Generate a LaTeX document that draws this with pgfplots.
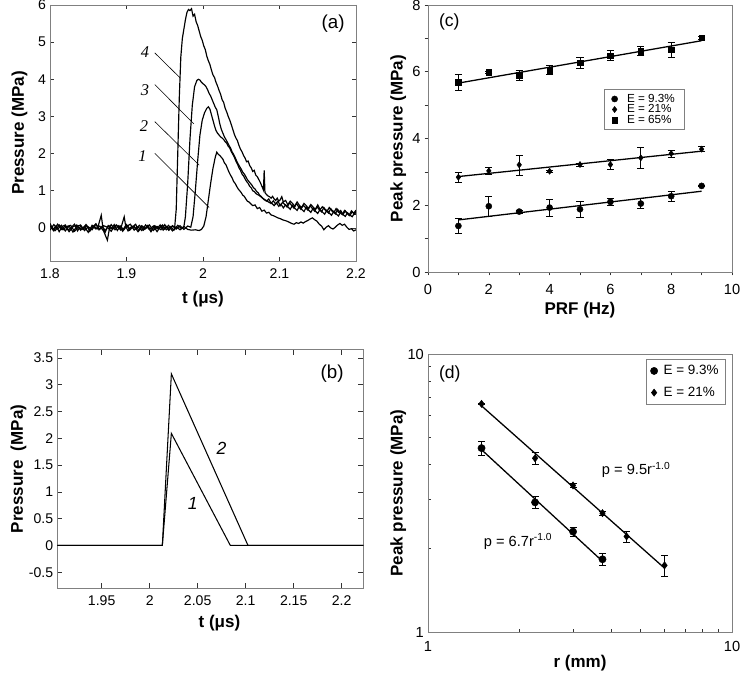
\documentclass[border=0pt]{standalone}
\usepackage{fontspec}
\setmainfont{Liberation Sans}
\newfontfamily\timesfont{Liberation Serif}
\usepackage{pgfplots}
\pgfplotsset{compat=1.18}
\definecolor{boxgray}{HTML}{808080}

\newcommand{\labfont}{\bfseries\fontsize{14.5}{16}\selectfont}

\pgfplotsset{
  panel/.style={
    scale only axis, anchor=south west,
    axis line style={boxgray, line width=0.6pt},
    every tick/.append style={black!80, line width=0.5pt},
    tick label style={font=\fontsize{12}{14}\selectfont},
    /pgf/number format/assume math mode=true,
  },
  ebars/.style={
    error bars/error mark=-,
    error bars/error mark options={rotate=90, mark size=3pt, line width=0.6pt, black},
    error bars/error bar style={line width=0.6pt, black},
  },
}

\begin{document}
\begin{tikzpicture}
\useasboundingbox (0,0) rectangle (22.5cm,20.25cm);

% (a) measured waveforms
\begin{axis}[panel, at={(1.5cm,12.42cm)}, width=9.18cm, height=7.68cm,
  xmin=1.8, xmax=2.2, ymin=-0.89, ymax=6,
  xtick={1.8,1.9,2,2.1,2.2}, ytick={0,1,2,3,4,5,6},
  tick align=inside, major tick length=0.12cm,
  xlabel={t (μs)}, ylabel={Pressure (MPa)},
  every axis x label/.style={at={(axis description cs:0.5,-0.1)}, anchor=north, font=\labfont},
  every axis y label/.style={at={(axis description cs:-0.1,0.5)}, rotate=90, anchor=center, font=\labfont},
  xticklabel style={yshift=-3pt},
]
\addplot[black, line width=1pt] coordinates {
(1.800,0.12) (1.804,-0.05) (1.808,0.06) (1.812,-0.10) (1.816,0.04) (1.820,0.08) (1.824,-0.06) (1.828,0.02) (1.832,0.10) (1.836,-0.08) (1.840,0.05) (1.844,-0.03) (1.848,0.07) (1.852,-0.09) (1.856,0.03) (1.860,0.11) (1.864,-0.05) (1.868,0.04) (1.872,-0.12) (1.876,0.06) (1.880,-0.02) (1.884,0.09) (1.888,-0.07) (1.892,0.05) (1.896,-0.04) (1.900,0.08) (1.904,-0.06) (1.908,0.03) (1.912,0.10) (1.916,-0.08) (1.920,0.04) (1.924,-0.03) (1.928,0.07) (1.932,-0.10) (1.936,0.05) (1.940,-0.02) (1.944,0.08) (1.948,-0.06) (1.952,0.04) (1.956,-0.05) (1.960,0.06) (1.963,0.02)
(1.965,0.5) (1.967,2.0) (1.969,3.5) (1.971,4.6) (1.973,5.1) (1.975,5.35) (1.977,5.6) (1.979,5.8) (1.981,5.88) (1.983,5.85) (1.985,5.9) (1.987,5.7) (1.989,5.75) (1.991,5.55) (1.993,5.45) (1.995,5.3) (1.997,5.15) (1.999,5.05) (2.001,4.9) (2.003,4.8) (2.005,4.62) (2.007,4.5) (2.009,4.4) (2.011,4.25) (2.013,4.12) (2.015,4.05) (2.017,3.92) (2.019,3.82) (2.021,3.7) (2.023,3.6) (2.025,3.45) (2.027,3.38) (2.029,3.22) (2.031,3.12) (2.033,3.0) (2.035,2.9) (2.037,2.78) (2.039,2.65) (2.041,2.52) (2.043,2.42) (2.045,2.35) (2.047,2.22) (2.049,2.12) (2.051,2.05) (2.053,1.95) (2.055,1.88) (2.057,1.78) (2.059,1.8) (2.061,1.68) (2.063,1.62) (2.065,1.52) (2.067,1.55) (2.069,1.42) (2.071,1.38) (2.073,1.3) (2.075,1.22) (2.077,1.12) (2.079,1.02) (2.080,1.55) (2.081,0.95) (2.083,0.9) (2.085,0.86) (2.087,0.84) (2.089,0.8) (2.091,0.85) (2.093,0.78) (2.095,0.74) (2.097,0.8) (2.099,0.72) (2.101,0.76) (2.103,0.84) (2.105,0.7) (2.108,0.74) (2.111,0.62) (2.114,0.72) (2.117,0.66) (2.120,0.58) (2.123,0.7) (2.126,0.61) (2.129,0.55) (2.132,0.66) (2.135,0.6) (2.138,0.52) (2.141,0.63) (2.144,0.56) (2.147,0.5) (2.150,0.62) (2.153,0.49) (2.156,0.57) (2.159,0.5) (2.162,0.44) (2.165,0.55) (2.168,0.47) (2.171,0.41) (2.174,0.52) (2.177,0.42) (2.180,0.47) (2.183,0.36) (2.186,0.46) (2.189,0.39) (2.192,0.33) (2.195,0.44) (2.198,0.37) (2.200,0.45)
};
\addplot[black, line width=1pt] coordinates {
(1.802,0.03) (1.807,-0.07) (1.812,0.08) (1.817,-0.05) (1.822,0.04) (1.827,0.07) (1.832,-0.09) (1.837,0.02) (1.842,-0.04) (1.847,0.09) (1.852,-0.06) (1.857,0.05) (1.862,-0.02) (1.867,0.34) (1.869,0.03) (1.872,-0.07) (1.877,0.06) (1.882,-0.03) (1.887,0.08) (1.892,-0.05) (1.897,0.3) (1.899,0.04) (1.902,-0.08) (1.907,0.05) (1.912,-0.02) (1.917,0.07) (1.922,-0.06) (1.927,0.03) (1.932,-0.09) (1.937,0.06) (1.942,-0.03) (1.947,0.08) (1.952,-0.05) (1.957,0.04) (1.962,-0.06) (1.967,0.07) (1.972,-0.02) (1.975,0.03)
(1.977,0.3) (1.980,1.2) (1.983,2.4) (1.986,3.3) (1.989,3.8) (1.992,3.97) (1.994,4.0) (1.996,3.98) (1.998,3.92) (2.000,3.88) (2.002,3.85) (2.004,3.8) (2.006,3.72) (2.008,3.62) (2.010,3.55) (2.012,3.45) (2.014,3.35) (2.016,3.25) (2.018,3.18) (2.020,3.0) (2.022,2.8) (2.024,2.65) (2.026,2.55) (2.028,2.45) (2.030,2.38) (2.032,2.3) (2.034,2.22) (2.036,2.15) (2.038,2.05) (2.040,1.98) (2.042,1.9) (2.044,1.8) (2.046,1.72) (2.048,1.65) (2.050,1.58) (2.052,1.5) (2.054,1.45) (2.056,1.38) (2.058,1.3) (2.060,1.25) (2.062,1.2) (2.064,1.15) (2.066,1.08) (2.068,1.05) (2.070,0.98) (2.072,0.95) (2.074,0.88) (2.076,0.85) (2.078,0.8) (2.080,0.76) (2.083,0.72) (2.086,0.78) (2.089,0.66) (2.092,0.73) (2.095,0.64) (2.098,0.72) (2.101,0.6) (2.104,0.69) (2.107,0.63) (2.110,0.56) (2.113,0.68) (2.116,0.6) (2.119,0.53) (2.122,0.66) (2.125,0.57) (2.128,0.5) (2.131,0.61) (2.134,0.55) (2.137,0.48) (2.140,0.6) (2.143,0.52) (2.146,0.45) (2.149,0.57) (2.152,0.49) (2.155,0.43) (2.158,0.55) (2.161,0.46) (2.164,0.4) (2.167,0.52) (2.170,0.44) (2.173,0.38) (2.176,0.5) (2.179,0.41) (2.182,0.36) (2.185,0.47) (2.188,0.4) (2.191,0.34) (2.194,0.46) (2.197,0.39) (2.200,0.48)
};
\addplot[black, line width=1pt] coordinates {
(1.800,-0.06) (1.805,0.09) (1.810,-0.03) (1.815,0.07) (1.820,-0.08) (1.825,0.05) (1.830,-0.11) (1.835,0.04) (1.840,0.08) (1.845,-0.07) (1.850,0.03) (1.855,-0.05) (1.860,0.10) (1.865,-0.04) (1.870,0.06) (1.875,0.02) (1.880,-0.09) (1.885,0.07) (1.890,0.03) (1.895,-0.06) (1.900,0.09) (1.905,-0.04) (1.910,0.05) (1.915,-0.10) (1.920,0.06) (1.925,-0.02) (1.930,0.08) (1.935,-0.07) (1.940,0.04) (1.945,-0.05) (1.950,0.09) (1.955,-0.06) (1.960,0.05) (1.965,-0.03) (1.970,0.06) (1.975,-0.04) (1.980,0.05) (1.984,0.02)
(1.987,0.3) (1.990,1.0) (1.993,1.8) (1.996,2.5) (1.999,2.9) (2.002,3.1) (2.005,3.22) (2.007,3.26) (2.009,3.2) (2.011,3.05) (2.013,2.9) (2.015,2.75) (2.017,2.62) (2.019,2.55) (2.021,2.5) (2.023,2.45) (2.025,2.42) (2.027,2.38) (2.029,2.32) (2.031,2.28) (2.033,2.2) (2.035,2.15) (2.037,2.05) (2.039,1.98) (2.041,1.9) (2.043,1.8) (2.045,1.72) (2.047,1.62) (2.049,1.55) (2.051,1.45) (2.053,1.4) (2.055,1.32) (2.057,1.25) (2.059,1.2) (2.061,1.12) (2.063,1.08) (2.065,1.0) (2.067,0.98) (2.069,0.93) (2.071,0.9) (2.073,0.88) (2.075,0.85) (2.078,0.8) (2.081,0.76) (2.084,0.72) (2.087,0.68) (2.090,0.66) (2.093,0.6) (2.096,0.68) (2.099,0.58) (2.102,0.64) (2.105,0.54) (2.108,0.62) (2.111,0.57) (2.114,0.5) (2.117,0.61) (2.120,0.53) (2.123,0.47) (2.126,0.59) (2.129,0.5) (2.132,0.44) (2.135,0.56) (2.138,0.48) (2.141,0.42) (2.144,0.53) (2.147,0.45) (2.150,0.39) (2.153,0.5) (2.156,0.43) (2.159,0.37) (2.162,0.48) (2.165,0.4) (2.168,0.34) (2.171,0.45) (2.174,0.38) (2.177,0.32) (2.180,0.43) (2.183,0.36) (2.186,0.31) (2.189,0.41) (2.192,0.35) (2.195,0.3) (2.198,0.4) (2.200,0.36)
};
\addplot[black, line width=1pt] coordinates {
(1.800,0.05) (1.805,-0.08) (1.810,0.10) (1.815,-0.04) (1.820,0.06) (1.825,-0.10) (1.830,0.03) (1.835,0.08) (1.840,-0.06) (1.845,0.04) (1.850,-0.12) (1.855,0.07) (1.860,-0.03) (1.865,0.05) (1.870,-0.08) (1.875,-0.33) (1.878,0.02) (1.880,0.09) (1.885,-0.05) (1.890,0.06) (1.895,-0.09) (1.900,0.04) (1.905,0.10) (1.910,-0.06) (1.915,0.03) (1.920,-0.07) (1.925,0.08) (1.930,-0.04) (1.935,0.05) (1.940,-0.10) (1.945,0.06) (1.950,-0.03) (1.955,0.07) (1.960,-0.08) (1.965,0.03) (1.970,-0.05) (1.975,0.04) (1.980,-0.04) (1.985,-0.06) (1.990,-0.05) (1.995,-0.07) (1.998,-0.04)
(2.001,0.05) (2.004,0.3) (2.007,0.75) (2.010,1.2) (2.013,1.6) (2.016,1.9) (2.018,2.04) (2.020,1.98) (2.022,1.95) (2.024,1.9) (2.026,1.85) (2.028,1.75) (2.030,1.7) (2.032,1.6) (2.034,1.5) (2.036,1.42) (2.038,1.35) (2.040,1.25) (2.042,1.2) (2.044,1.12) (2.046,1.05) (2.048,1.0) (2.050,0.95) (2.052,0.88) (2.054,0.85) (2.056,0.78) (2.058,0.72) (2.060,0.7) (2.062,0.66) (2.065,0.6) (2.068,0.62) (2.071,0.52) (2.074,0.55) (2.077,0.45) (2.080,0.48) (2.083,0.4) (2.086,0.42) (2.089,0.35) (2.092,0.33) (2.095,0.3) (2.098,0.27) (2.101,0.25) (2.104,0.22) (2.107,0.2) (2.110,0.18) (2.113,0.15) (2.116,0.12) (2.119,0.1) (2.122,0.14) (2.125,0.12) (2.128,0.16) (2.131,0.13) (2.134,0.17) (2.137,0.2) (2.140,0.24) (2.143,0.27) (2.146,0.22) (2.149,0.18) (2.152,0.1) (2.155,0.05) (2.158,-0.05) (2.161,0.02) (2.164,0.06) (2.167,0.0) (2.170,-0.03) (2.173,0.02) (2.176,0.08) (2.179,0.12) (2.182,0.07) (2.185,0.1) (2.188,0.02) (2.191,-0.04) (2.194,-0.02) (2.197,-0.08) (2.200,-0.05)
};
% leader lines
\addplot[black, line width=0.5pt] coordinates {(1.937,4.71) (1.970,4.04)};
\addplot[black, line width=0.5pt] coordinates {(1.937,3.86) (1.988,2.80)};
\addplot[black, line width=0.5pt] coordinates {(1.937,2.86) (1.995,1.69)};
\addplot[black, line width=0.5pt] coordinates {(1.937,2.01) (2.008,0.55)};
\node[font=\timesfont\itshape\fontsize{14}{14}\selectfont] at (axis cs:1.924,4.73) {4};
\node[font=\timesfont\itshape\fontsize{14}{14}\selectfont] at (axis cs:1.924,3.72) {3};
\node[font=\timesfont\itshape\fontsize{14}{14}\selectfont] at (axis cs:1.923,2.73) {2};
\node[font=\timesfont\itshape\fontsize{14}{14}\selectfont] at (axis cs:1.921,1.94) {1};
\node[font=\fontsize{16}{16}\selectfont] at (axis cs:2.170,5.49) {(a)};
\end{axis}

% (b) model waveforms
\begin{axis}[panel, at={(1.719cm,2.601cm)}, width=9.18cm, height=7.155cm,
  xmin=1.9038, xmax=2.2225, ymin=-0.8, ymax=3.65,
  xtick={1.95,2,2.05,2.1,2.15,2.2}, ytick={-0.5,0,0.5,1,1.5,2,2.5,3,3.5},
  tick align=inside, major tick length=0.15cm,
  xlabel={t (μs)}, ylabel={Pressure\ \ (MPa)},
  every axis x label/.style={at={(axis description cs:0.53,-0.146)}, anchor=center, font=\labfont},
  every axis y label/.style={at={(axis description cs:-0.127,0.5)}, rotate=90, anchor=center, font=\labfont},
  xticklabel style={yshift=-3pt},
]
\addplot[black, line width=0.9pt] coordinates {(1.9038,0) (2.0132,0) (2.0226,2.09) (2.084,0) (2.2225,0)};
\addplot[black, line width=0.9pt] coordinates {(1.9038,0) (2.0132,0) (2.0226,3.20) (2.1024,0) (2.2225,0)};
\node[font=\itshape\fontsize{15}{15}\selectfont] at (axis cs:2.0747,1.82) {2};
\node[font=\itshape\fontsize{15}{15}\selectfont] at (axis cs:2.045,0.78) {1};
\node[font=\fontsize{16}{16}\selectfont] at (axis cs:2.190,3.2) {(b)};
\end{axis}

% (c) peak pressure vs PRF
\begin{axis}[panel, ebars, at={(12.84cm,12.09cm)}, width=9.12cm, height=8.01cm,
  xmin=0, xmax=10, ymin=0, ymax=8,
  xtick={0,2,...,10}, ytick={0,2,...,8},
  minor xtick={1,3,5,7,9}, minor ytick={1,3,5,7},
  xtick pos=bottom, ytick pos=left,
  tick align=outside, major tick length=0.1cm, minor tick length=0.1cm,
  tick label style={font=\fontsize{12.5}{14}\selectfont},
  xticklabel style={yshift=-4pt},
  xlabel={PRF (Hz)}, ylabel={Peak pressure (MPa)},
  every axis x label/.style={at={(axis description cs:0.5,-0.142)}, anchor=center, font=\labfont},
  every axis y label/.style={at={(axis description cs:-0.098,0.5)}, rotate=90, anchor=center, font=\labfont},
  legend style={at={(rel axis cs:0.58,0.685)}, anchor=north west, draw=boxgray,
    font=\fontsize{10}{10}\selectfont, inner xsep=6pt, inner ysep=2pt, row sep=-3.5pt,
    /tikz/every odd column/.append style={column sep=6pt}},
  legend cell align=left,
]
\addplot[black, only marks, mark=*, mark size=2.6pt,
  error bars/.cd, y dir=both, y explicit] coordinates {
(1,1.38) +- (0,0.22) (2,1.97) +- (0,0.31) (3,1.81) +- (0,0.04) (4,1.93) +- (0,0.25) (5,1.88) +- (0,0.25)
(6,2.10) +- (0,0.10) (7,2.05) +- (0,0.15) (8,2.27) +- (0,0.15) (9,2.58) +- (0,0.02)};
\addlegendentry{E = 9.3\%}
\addplot[black, only marks, mark=diamond*, mark size=2.6pt,
  error bars/.cd, y dir=both, y explicit] coordinates {
(1,2.84) +- (0,0.15) (2,3.03) +- (0,0.10) (3,3.21) +- (0,0.30) (4,3.02) +- (0,0.03) (5,3.22) +- (0,0.05)
(6,3.22) +- (0,0.15) (7,3.42) +- (0,0.30) (8,3.55) +- (0,0.10) (9,3.68) +- (0,0.08)};
\addlegendentry{E = 21\%}
\addplot[black, only marks, mark=square*, mark size=2.4pt,
  error bars/.cd, y dir=both, y explicit] coordinates {
(1,5.68) +- (0,0.24) (2,5.98) +- (0,0.04) (3,5.89) +- (0,0.15) (4,6.05) +- (0,0.13) (5,6.27) +- (0,0.17)
(6,6.48) +- (0,0.15) (7,6.62) +- (0,0.14) (8,6.66) +- (0,0.23) (9,7.02) +- (0,0.04)};
\addlegendentry{E = 65\%}
\addplot[black, line width=1.1pt, forget plot] coordinates {(1,1.56) (9,2.42)};
\addplot[black, line width=1.1pt, forget plot] coordinates {(1,2.86) (9,3.62)};
\addplot[black, line width=1.1pt, forget plot] coordinates {(1,5.66) (9,6.93)};
\node[font=\fontsize{15}{15}\selectfont] at (axis cs:0.7,7.5) {(c)};
\end{axis}

% (d) peak pressure vs distance
\begin{axis}[panel, ebars, at={(12.84cm,1.281cm)}, width=9.12cm, height=8.35cm,
  xmode=log, ymode=log, xmin=1, xmax=10, ymin=1, ymax=10,
  xtick={1,10}, xticklabels={1,10}, ytick={1,10}, yticklabels={1,10},
  minor xtick={2,3,4,5,6,7,8,9}, minor ytick={2,3,4,5,6,7,8,9},
  xtick pos=bottom, ytick pos=left,
  tick align=inside, major tick length=0.1cm, minor tick length=0.1cm,
  tick label style={font=\fontsize{12.5}{14}\selectfont},
  xticklabel style={yshift=-4pt},
  xlabel={r (mm)}, ylabel={Peak pressure (MPa)},
  every axis x label/.style={at={(axis description cs:0.5,-0.11)}, anchor=center, font=\labfont},
  every axis y label/.style={at={(axis description cs:-0.098,0.5)}, rotate=90, anchor=center, font=\labfont},
  legend style={at={(rel axis cs:0.98,0.981)}, anchor=north east, draw=boxgray,
    font=\fontsize{11.5}{11.5}\selectfont, inner xsep=4pt, inner ysep=3pt, row sep=5pt,
    /tikz/every odd column/.append style={column sep=3pt}},
  legend cell align=left,
]
\addplot[black, only marks, mark=*, mark size=3.1pt,
  error bars/.cd, y dir=both, y explicit] coordinates {
(1.5,4.59) +- (0,0.25) (2.25,2.93) +- (0,0.15) (3.0,2.30) +- (0,0.08) (3.75,1.83) +- (0,0.09)};
\addlegendentry{E = 9.3\%}
\addplot[black, only marks, mark=diamond*, mark size=3.1pt,
  error bars/.cd, y dir=both, y explicit] coordinates {
(1.5,6.62) +- (0,0.05) (2.25,4.22) +- (0,0.20) (3.0,3.37) +- (0,0.05) (3.75,2.68) +- (0,0.05) (4.5,2.21) +- (0,0.10) (6.0,1.74) +- (0,0.15)};
\addlegendentry{E = 21\%}
\addplot[black, line width=1.1pt, forget plot] coordinates {(1.5,4.53) (3.75,1.80)};
\addplot[black, line width=1.1pt, forget plot] coordinates {(1.5,6.51) (6.0,1.70)};
\node[font=\fontsize{12.5}{13}\selectfont, anchor=west] at (axis cs:3.62,3.83) {p = 9.5r\textsuperscript{-1.0}};
\node[font=\fontsize{12.5}{13}\selectfont, anchor=west] at (axis cs:1.48,2.12) {p = 6.7r\textsuperscript{-1.0}};
\node[font=\fontsize{15}{15}\selectfont] at (axis cs:1.18,8.5) {(d)};
\end{axis}
\end{tikzpicture}
\end{document}
